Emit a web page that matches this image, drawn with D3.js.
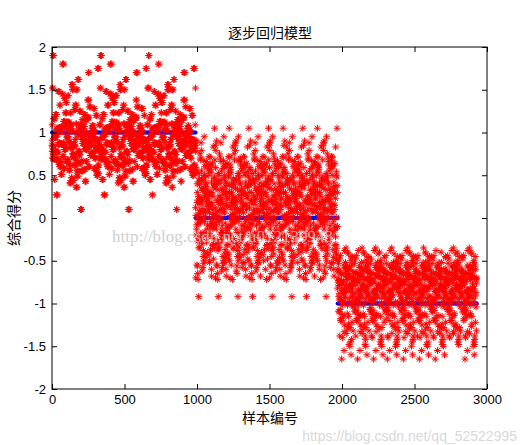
<!DOCTYPE html>
<html><head><meta charset="utf-8">
<script src="https://cdn.jsdelivr.net/npm/d3@7"></script>
<style>body{margin:0;background:#fff}text{font-family:"Noto Sans CJK SC","DejaVu Sans",sans-serif}</style>
</head><body><svg id="c" width="527" height="445"></svg>
<script>
// predicted scores, class 1 (samples 0-990)
const score_a = [0.85,1.21,0.62,0.95,1.38,0.71,0.88,1.05,0.55,1.8,0.92,0.67,1.12,0.78,0.43,1.23,0.99,0.6,0.84,1.32,
0.73,1.02,0.58,0.91,1.15,0.68,1.9,0.8,0.47,1.04,0.96,0.63,0.87,1.28,0.74,1.08,0.52,0.93,1.12,0.69,
0.83,1.5,0.77,0.98,0.36,1.07,0.89,0.64,1.23,0.81,1.01,0.56,0.94,1.17,0.72,0.86,1.0,0.49,1.45,0.79,
0.97,0.66,1.09,0.84,0.41,1.21,0.9,0.61,1.06,0.76,1.62,0.88,0.54,1.05,0.95,0.7,1.14,0.82,0.27,1.3,
0.92,0.65,1.03,0.78,1.4,0.59,0.87,1.03,0.74,0.99,1.56,0.68,0.85,1.1,0.51,0.93,1.25,0.8,0.62,1.07,
0.89,0.45,1.18,0.75,1.48,0.96,0.67,1.01,0.83,0.1,1.35,0.91,0.57,1.04,0.79,1.7,0.86,0.63,1.08,0.97,
0.72,1.2,0.55,0.94,1.52,0.81,1.09,0.69,0.88,1.27,0.6,1.0,0.77,1.13,0.5,0.92,1.43,0.84,0.66,1.02,
0.98,0.73,1.32,0.87,0.58,1.06,0.8,1.75,0.95,0.64,1.16,0.9,0.44,1.05,0.76,1.5,0.86,0.7,1.1,0.83];
// class 0 (samples 990-1970)
const score_b = [0.12,-0.35,0.45,0.02,-0.2,0.31,0.63,-0.48,0.18,-0.05,0.52,-0.62,0.08,0.27,-0.15,0.71,-0.31,0.4,0.05,-0.92,
0.22,-0.42,0.58,0.15,-0.1,0.36,-0.55,0.68,0.0,-0.25,0.47,0.1,-0.68,0.3,0.83,-0.08,0.2,-0.38,0.55,0.07,
-0.18,0.42,-0.5,0.25,0.9,-0.03,0.33,-0.28,0.6,0.14,-0.6,0.38,0.04,-0.13,0.75,-0.45,0.19,0.5,-0.22,0.28,
1.05,-0.07,0.44,-0.34,0.11,0.66,-0.52,0.23,-0.02,0.48,-0.72,0.35,0.09,-0.17,0.62,0.17,-0.4,0.53,0.01,-0.27,
0.79,0.26,-0.58,0.41,0.06,-0.12,0.57,-0.36,0.21,0.88,-0.04,0.32,-0.46,0.13,0.64,-0.2,0.39,-0.65,0.16,0.5,
-0.09,0.29,0.72,-0.32,0.03,0.46,-0.56,0.24,0.95,-0.14,0.37,-0.43,0.1,0.59,-0.24,0.2,0.7,-0.5,0.34,-0.06,
0.54,0.15,-0.7,0.43,0.08,-0.19,0.67,0.27,-0.37,0.5,-0.01,0.85,0.18,-0.3,0.4,-0.53,0.22,0.61,-0.11,0.3];
// class -1 (samples 1970-2930)
const score_c = [-0.82,-1.15,-0.55,-0.95,-0.7,-1.38,-0.62,-0.88,-1.05,-0.45,-0.77,-1.25,-0.66,-0.92,-1.5,-0.58,-0.84,-1.1,-0.72,-0.4,
-0.98,-0.64,-1.32,-0.8,-0.52,-1.02,-0.75,-1.6,-0.68,-0.9,-1.18,-0.6,-0.86,-0.35,-1.08,-0.73,-1.42,-0.79,-0.56,-0.97,
-1.22,-0.67,-0.83,-1.65,-0.61,-0.94,-1.12,-0.71,-0.48,-0.87,-1.3,-0.65,-0.99,-0.76,-1.45,-0.59,-0.85,-1.07,-0.7,-0.42,
-0.93,-1.2,-0.63,-0.81,-1.35,-0.74,-0.53,-1.0,-0.69,-1.55,-0.78,-0.91,-0.57,-1.14,-0.66,-0.88,-1.28,-0.72,-0.38,-0.96,
-1.04,-0.62,-0.84,-1.4,-0.7,-0.5,-0.9,-1.16,-0.64,-0.8,-1.24,-0.58,-0.95,-0.75,-1.48,-0.68,-0.86,-1.09,-0.55,-0.82,
-1.33,-0.73,-0.46,-0.98,-0.66,-1.2,-0.79,-0.6,-1.02,-0.87,-1.38,-0.71,-0.52,-0.93,-1.13,-0.65,-0.83,-1.27,-0.76,-0.44];
const true_label = [1, 0, -1];
const group_range = [[0, 990], [990, 1970], [1970, 2930]];
const x_ticks = [0, 500, 1000, 1500, 2000, 2500, 3000];
const y_ticks = [-2, -1.5, -1, -0.5, 0, 0.5, 1, 1.5, 2];

const svg = d3.select('#c');
const m = {l: 52, r: 487, t: 47, b: 389};
const x = d3.scaleLinear().domain([0, 3000]).range([m.l, m.r]);
const y = d3.scaleLinear().domain([-2, 2]).range([m.b, m.t]);

const groups = [score_a, score_b, score_c];

// blue true labels, one per sample position
const g_blue = svg.append('g');
group_range.forEach((r, k) => {
    const n = 160;
    for (let i = 0; i < n; i++) {
        g_blue.append('circle')
            .attr('cx', x(r[0] + (r[1] - r[0]) * i / (n - 1)))
            .attr('cy', y(true_label[k]))
            .attr('r', 2).attr('fill', '#0000ff');
    }
});

// red asterisks; each score plotted several times along its group to mimic density
const star = 'M-3.5,0H3.5M0,-3.5V3.5M-2.5,-2.5L2.5,2.5M-2.5,2.5L2.5,-2.5';
const g_red = svg.append('g').attr('stroke', '#ff0000').attr('stroke-width', 1).attr('fill', 'none');
groups.forEach((vals, k) => {
    const r = group_range[k];
    const n = vals.length;
    for (let rep = 0; rep < 8; rep++) {
        vals.forEach((v, i) => {
            const j = (i * 37 + rep * 53) % n;
            const xv = r[0] + (r[1] - r[0]) * ((j + rep / 8) / n);
            g_red.append('path').attr('d', star)
                .attr('transform', `translate(${x(xv)},${y(v)})`);
        });
    }
});

// watermark
svg.append('text').attr('x', 112).attr('y', 242).attr('font-size', 17)
    .attr('fill', '#c8c8c8').attr('opacity', 0.85)
    .style('font-family', 'Liberation Serif')
    .text('http://blog.csdn.net/u012139948');

// frame + axes
svg.append('rect').attr('x', m.l).attr('y', m.t).attr('width', m.r - m.l).attr('height', m.b - m.t)
    .attr('fill', 'none').attr('stroke', '#000');
svg.append('g').attr('transform', `translate(0,${m.b})`)
    .call(d3.axisBottom(x).tickValues(x_ticks).tickSize(-5).tickPadding(6).tickFormat(d3.format('d')));
svg.append('g').attr('transform', `translate(${m.l},0)`)
    .call(d3.axisLeft(y).tickValues(y_ticks).tickSize(-5).tickPadding(6).tickFormat(d => d));
svg.append('g').attr('transform', `translate(0,${m.t})`)
    .call(d3.axisTop(x).tickValues(x_ticks).tickSize(-5).tickFormat(''));
svg.append('g').attr('transform', `translate(${m.r},0)`)
    .call(d3.axisRight(y).tickValues(y_ticks).tickSize(-5).tickFormat(''));
svg.selectAll('.domain').remove();
svg.selectAll('.tick text').attr('font-size', 13).style('font-family', 'Liberation Sans').attr('fill', '#000');

svg.append('text').attr('x', 270).attr('y', 38).attr('text-anchor', 'middle').attr('font-size', 14).text('逐步回归模型');
svg.append('text').attr('x', 270).attr('y', 423).attr('text-anchor', 'middle').attr('font-size', 14).text('样本编号');
svg.append('text').attr('transform', 'translate(19,218) rotate(-90)').attr('text-anchor', 'middle').attr('font-size', 14).text('综合得分');
svg.append('text').attr('x', 517).attr('y', 441).attr('text-anchor', 'end').attr('font-size', 14)
    .style('font-family', 'Liberation Sans').attr('fill', '#d0d0d0').attr('opacity', 0.8)
    .text('https://blog.csdn.net/qq_52522995');
</script></body></html>
